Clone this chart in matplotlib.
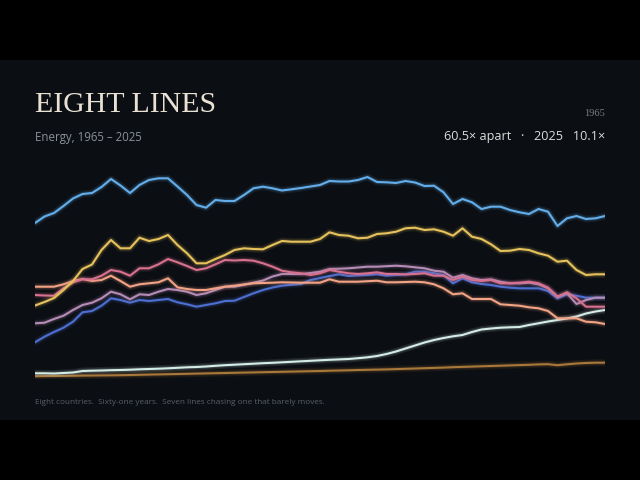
import matplotlib
matplotlib.use("Agg")
import matplotlib.pyplot as plt
import numpy as np

years = list(range(1965, 2026))

sky = [155.8,162.3,165.8,172.8,180.3,184.8,185.8,191.8,199.8,193.3,185.8,193.8,198.8,200.5,200.5,192.3,183.8,173.8,171.1,178.8,
       177.8,177.8,183.8,190.5,192.1,190.5,188.3,189.5,190.8,192.3,193.8,197.8,197.3,197.3,198.8,201.8,196.8,196.5,195.8,197.8,
       196.3,192.8,193.1,186.5,174.8,179.8,176.5,169.8,172.1,172.1,168.8,166.5,164.8,169.8,167.1,152.8,160.5,162.8,159.8,160.5,162.8]
gold = [73.3,76.8,80.8,88.8,97.8,109.8,114.3,128.8,138.8,130.5,130.5,141.1,137.8,139.8,143.8,133.8,125.5,115.5,115.5,119.8,
        123.8,128.8,130.5,129.8,129.5,133.8,137.8,137.1,137.1,137.1,139.8,146.5,143.8,143.1,140.5,141.1,144.8,145.5,147.1,150.5,
        151.1,148.8,149.5,147.1,143.1,150.5,142.1,139.8,134.5,127.8,128.1,129.8,128.8,125.5,123.1,117.1,118.1,108.8,103.8,104.5,104.5]
rose = [83.8,83.3,83.1,90.5,96.5,99.5,99.5,103.1,108.8,107.1,103.1,110.5,110.5,114.5,119.8,116.5,112.8,108.8,110.5,114.5,
        118.8,118.3,118.8,118.1,115.5,112.1,108.1,106.5,105.5,103.8,105.5,108.8,107.1,105.5,104.8,105.5,106.5,104.8,104.8,104.3,
        104.8,105.5,103.1,103.1,98.8,102.1,98.8,97.8,98.8,95.5,95.5,96.1,97.1,95.5,91.1,82.1,86.5,80.5,72.1,72.1,72.1]
peach = [92.1,92.1,92.1,94.5,97.8,99.8,97.8,98.8,103.1,97.8,92.1,94.5,95.5,96.5,100.5,91.5,89.8,88.8,88.8,90.5,
         92.1,93.1,94.3,95.5,95.8,96.1,96.5,96.3,96.1,96.1,96.1,99.5,97.1,97.1,97.1,97.6,98.1,96.5,96.5,96.8,
         97.1,96.5,94.5,90.5,84.5,85.5,79.8,79.8,79.8,74.5,73.8,73.1,71.5,70.5,67.8,60.5,60.5,60.5,57.1,56.5,54.8]
mauve = [55.5,56.1,59.8,63.1,68.8,73.8,76.1,80.5,87.1,84.5,79.5,84.5,83.8,87.1,89.8,88.8,87.1,83.8,85.5,88.8,
         92.1,92.1,94.1,96.1,98.3,102.3,104.8,104.8,104.8,105.8,107.1,109.8,110.1,110.5,111.3,112.1,112.1,112.6,113.1,112.5,
         111.5,110.5,108.1,107.1,101.1,103.8,100.5,98.8,99.5,97.1,95.5,95.5,96.1,94.5,90.5,82.1,85.5,74.8,78.8,81.1,81.1]
royal = [36.5,42.1,46.8,51.1,57.1,66.5,67.8,73.1,80.5,78.8,76.1,78.8,77.8,78.8,79.8,76.5,74.5,72.1,73.8,75.5,
         77.8,78.1,81.8,85.5,88.8,91.3,93.1,94.0,94.8,98.8,100.8,102.8,104.5,102.8,103.3,103.8,104.5,103.1,103.8,104.5,
         107.1,107.1,105.5,103.8,95.5,100.5,96.5,94.8,93.8,92.1,91.1,90.5,90.5,90.5,87.8,80.5,84.5,83.1,81.1,81.1,81.1]
mint = [5.5,5.5,5.3,5.8,6.3,7.8,8.1,8.3,8.6,8.8,9.1,9.5,9.8,10.1,10.5,11.0,11.5,11.8,12.3,13.0,
        13.6,14.1,14.6,15.1,15.6,16.0,16.5,17.0,17.5,18.0,18.5,19.0,19.4,19.8,20.6,21.5,22.8,24.8,27.3,30.3,
        33.3,36.3,38.8,40.8,42.5,43.8,46.8,49.3,50.3,51.1,51.5,51.8,53.8,55.5,57.3,58.8,60.3,62.3,65.3,67.3,68.8]
ochre = [2.575,2.7,2.8,2.9,3.0,3.2,3.3,3.4,3.5,3.6,3.8,4.0,4.2,4.4,4.6,4.8,5.0,5.2,5.4,5.6,
         5.8,6.0,6.2,6.4,6.6,6.8,7.0,7.2,7.4,7.6,7.8,8.1,8.3,8.5,8.8,9.0,9.2,9.4,9.7,10.0,
         10.3,10.6,10.9,11.2,11.6,11.9,12.2,12.5,12.8,13.1,13.4,13.7,14.0,14.4,14.6,13.6,14.5,15.3,15.8,16.1,16.1]

series = [ochre, mint, royal, mauve, peach, rose, gold, sky]
colors = ["#a8773a", "#d4ece6", "#4c6fd0", "#b48cb6", "#f2a285", "#d8718f", "#e6c25c", "#63aeea"]

BG = "#0b0e13"
fig = plt.figure(figsize=(6.4, 4.8), dpi=100, facecolor="black")
# dark panel between letterbox bars
panel = fig.add_axes([0, 60/480, 1, 360/480])
panel.set_facecolor(BG)
panel.set_xticks([]); panel.set_yticks([])
for s in panel.spines.values():
    s.set_visible(False)
panel.set_zorder(0)

ax = fig.add_axes([35/640, (480-378.8)/480, 570/640, 210/480])
ax.set_facecolor("none")
ax.set_zorder(1)
ax.set_xlim(1965, 2025)
ax.set_ylim(0, 210)
for s in ax.spines.values():
    s.set_visible(False)
ax.set_xticks([]); ax.set_yticks([])

for vals, c in zip(series, colors):
    ax.plot(years, vals, color=c, lw=5.0, alpha=0.10, solid_capstyle="round", solid_joinstyle="round")
    ax.plot(years, vals, color=c, lw=3.0, alpha=0.15, solid_capstyle="round", solid_joinstyle="round")
    ax.plot(years, vals, color=c, lw=1.5, solid_capstyle="round", solid_joinstyle="round")

first = [s[0] for s in series]
last = [s[-1] for s in series]
r0 = max(first) / min(first)
r1 = max(last) / min(last)

fig.text(35/640, 1 - 112/480, "EIGHT LINES", family="Liberation Serif", fontsize=21.5,
         color="#e9e2d4", ha="left", va="baseline")
fig.text(35/640, 1 - 141/480, f"Energy, {years[0]} – {years[-1]}", family="Open Sans", fontsize=8.3,
         color="#8b9099", ha="left", va="baseline")
fig.text(605/640, 1 - 116/480, f"{years[0]}", family="Liberation Serif", fontsize=7.5,
         color="#7a7d82", ha="right", va="baseline")
fig.text(605/640, 1 - 140/480, f"{r0:.1f}× apart   ·   {years[-1]}   {r1:.1f}×", family="Open Sans",
         fontsize=9.1, color="#dcdcdc", ha="right", va="baseline")
fig.text(35/640, 1 - 404/480, "Eight countries.  Sixty-one years.  Seven lines chasing one that barely moves.",
         family="Open Sans", fontsize=5.85, color="#5a5f67", ha="left", va="baseline")

fig.savefig("out.png", dpi=100, facecolor="black")
